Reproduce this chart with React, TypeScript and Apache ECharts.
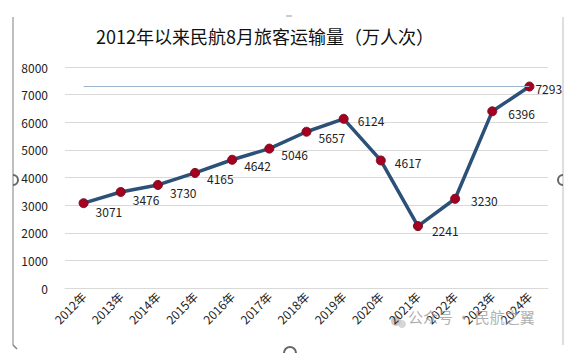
import React, { useEffect, useRef } from "react";
import * as echarts from "echarts";

const categories = ["2012年", "2013年", "2014年", "2015年", "2016年", "2017年", "2018年", "2019年", "2020年", "2021年", "2022年", "2023年", "2024年"];
const values = [3071, 3476, 3730, 4165, 4642, 5046, 5657, 6124, 4617, 2241, 3230, 6396, 7293];
const labelOffsets: [number, number][] = [
  [2, 8], [2, 8], [2, 8], [2, 6], [2, 6], [2, 6], [2, 6], [4, 2], [4, 2], [4, 4], [6, 2], [6, 2], [-4, 2],
];
const yTicks = { min: 0, max: 8000, interval: 1000 };
const refLine = 7293;
const title = "2012年以来民航8月旅客运输量（万人次）";
const watermark = "公众号 · 民航之翼";

export default function App() {
  const ref = useRef<HTMLDivElement>(null);
  useEffect(() => {
    if (!ref.current) return;
    const chart = echarts.init(ref.current, null, { renderer: "svg" });
    const font = "'Noto Sans CJK SC', 'Noto Sans', sans-serif";
    chart.setOption({
      animation: false,
      backgroundColor: "#fff",
      textStyle: { fontFamily: font },
      title: {
        text: title,
        left: 91,
        top: 22,
        textStyle: { fontSize: 18, fontWeight: "normal", color: "#111", fontFamily: font },
      },
      grid: { left: 65, right: 23, top: 67, bottom: 67 },
      xAxis: {
        type: "category",
        data: categories,
        boundaryGap: true,
        axisLine: { show: true, lineStyle: { color: "#d9d9d9" } },
        axisTick: { show: false },
        axisLabel: { rotate: 45, fontSize: 12, color: "#222", margin: 6, fontFamily: font },
      },
      yAxis: {
        type: "value",
        min: yTicks.min,
        max: yTicks.max,
        interval: yTicks.interval,
        axisLine: { show: false },
        axisTick: { show: false },
        axisLabel: { fontSize: 12, color: "#222", margin: 17, fontFamily: font, formatter: (v: number) => String(v) },
        splitLine: { lineStyle: { color: "#d9d9d9", width: 1 } },
      },
      series: [
        {
          type: "line",
          data: values.map((v, i) => ({
            value: v,
            label: { offset: labelOffsets[i] },
          })),
          lineStyle: { color: "#2c5178", width: 3.5 },
          symbol: "circle",
          symbolSize: 9,
          itemStyle: { color: "#a50021", borderColor: "#7a1020", borderWidth: 1 },
          label: { show: true, position: "right", fontSize: 12, color: "#222", fontFamily: font },
          markLine: {
            silent: true,
            symbol: "none",
            label: { show: false },
            lineStyle: { color: "#9db5cc", width: 1, type: "solid" },
            data: [[{ coord: [0, refLine] }, { coord: [categories.length - 1, refLine] }]],
          },
          z: 3,
        },
      ],
      graphic: [
        { type: "line", shape: { x1: 13, y1: 17, x2: 13, y2: 345 }, style: { stroke: "#7f7f7f", lineWidth: 1 } },
        { type: "line", shape: { x1: 13, y1: 345, x2: 17, y2: 349 }, style: { stroke: "#7f7f7f", lineWidth: 1.5 } },
        { type: "line", shape: { x1: 563, y1: 17, x2: 563, y2: 345 }, style: { stroke: "#bdbdbd", lineWidth: 1 } },
        { type: "arc", shape: { cx: 13, cy: 180, r: 5, startAngle: -Math.PI / 2, endAngle: Math.PI / 2 }, style: { stroke: "#666", lineWidth: 2, fill: "none" } },
        { type: "arc", shape: { cx: 563, cy: 180, r: 5, startAngle: Math.PI / 2, endAngle: (3 * Math.PI) / 2 }, style: { stroke: "#666", lineWidth: 2, fill: "none" } },
        { type: "arc", shape: { cx: 290, cy: 353, r: 6, startAngle: Math.PI, endAngle: 2 * Math.PI }, style: { stroke: "#666", lineWidth: 2, fill: "none" } },
        { type: "line", shape: { x1: 286, y1: 16, x2: 292, y2: 16 }, style: { stroke: "#999", lineWidth: 1 } },
        { type: "circle", shape: { cx: 396, cy: 321, r: 5 }, style: { fill: "#bbb", opacity: 0.8 } },
        { type: "circle", shape: { cx: 402, cy: 324, r: 4 }, style: { fill: "#ccc", opacity: 0.8 } },
        {
          type: "text",
          left: 408,
          top: 309,
          style: { text: watermark, fontSize: 15, fill: "rgba(150,150,150,0.75)", fontFamily: font },
          z: 10,
        },
      ],
    });
    return () => chart.dispose();
  }, []);
  return <div ref={ref} style={{ position: "fixed", left: 0, top: 0, width: 571, height: 355 }} />;
}
